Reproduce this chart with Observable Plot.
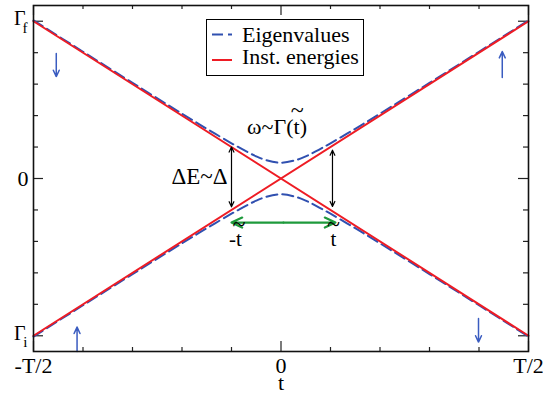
<!DOCTYPE html>
<html>
<head>
<meta charset="utf-8">
<script src="https://cdn.jsdelivr.net/npm/d3@7"></script>
<script src="https://cdn.jsdelivr.net/npm/@observablehq/plot@0.6"></script>
<style>
  body { margin: 0; background: white; }
  #chart { position: relative; width: 543px; height: 394px; }
  svg { font-family: "Liberation Serif", serif; }
</style>
</head>
<body>
<div id="chart"></div>
<script>
// ---- data ----
const xTickValues = [-0.5, 0, 0.5];
const xTickLabels = ["-T/2", "0", "T/2"];
const xMinorTicks = [-0.4, -0.3, -0.2, -0.1, 0.1, 0.2, 0.3, 0.4];
const yTickValues = [-1, 0, 1];
const yTickMain = ["Γ", "0", "Γ"];
const yTickSub = ["i", "", "f"];
const yMinorTicks = [-0.8, -0.6, -0.4, -0.2, 0.2, 0.4, 0.6, 0.8];

const instT = [-0.5, 0.5];
const instRising = [-1, 1];
const instFalling = [1, -1];

const eigT = [-0.5, -0.4, -0.3, -0.2, -0.15, -0.1, -0.07, -0.05, -0.03, 0, 0.03, 0.05, 0.07, 0.1, 0.15, 0.2, 0.3, 0.4, 0.5];
const eigUpper = [1.005, 0.806, 0.608, 0.412, 0.316, 0.224, 0.172, 0.141, 0.117, 0.1, 0.117, 0.141, 0.172, 0.224, 0.316, 0.412, 0.608, 0.806, 1.005];
const eigLower = [-1.005, -0.806, -0.608, -0.412, -0.316, -0.224, -0.172, -0.141, -0.117, -0.1, -0.117, -0.141, -0.172, -0.224, -0.316, -0.412, -0.608, -0.806, -1.005];

const sweepX = [-0.454, 0.447, -0.412, 0.399];
const sweepFrom = [0.795, 0.642, -1.1, -0.89];
const sweepTo = [0.648, 0.807, -0.945, -1.04];

const gapX = [-0.1, 0.104];
const gapTop = [0.2, 0.18];
const gapBottom = [-0.18, -0.178];

const widthArrowY = -0.28;
const widthArrowFrom = -0.1;
const widthArrowTo = 0.11;

// annotation texts
const noteTexts = ["ω~Γ(t)", "ΔE~Δ", "-t", "t"];
const noteX = [-0.008, -0.108, -0.092, 0.106];
const noteY = [0.325, 0.012, -0.385, -0.385];
const noteSize = [22, 23, 21, 21];
const noteAnchor = ["middle", "end", "middle", "middle"];
const tildeX = [0.033, -0.085, 0.106];
const tildeY = [0.435, -0.292, -0.292];

const seriesNames = ["Eigenvalues", "Inst. energies"];
const seriesColors = ["#3050b0", "#ee1c24"];
const seriesDash = ["11,5", null];

// ---- build tables ----
const eigData = [
  ...eigT.map((t, i) => ({t, e: eigUpper[i], branch: "upper"})),
  ...eigT.map((t, i) => ({t, e: eigLower[i], branch: "lower"}))
];
const instData = [
  ...instT.map((t, i) => ({t, e: instRising[i], branch: "rising"})),
  ...instT.map((t, i) => ({t, e: instFalling[i], branch: "falling"}))
];
const sweepArrows = sweepX.map((x, i) => ({x1: x, y1: sweepFrom[i], x2: x, y2: sweepTo[i]}));
const gapArrows = gapX.flatMap((x, i) => {
  const mid = (gapTop[i] + gapBottom[i]) / 2;
  return [{x1: x, y1: mid, x2: x, y2: gapTop[i]}, {x1: x, y1: mid, x2: x, y2: gapBottom[i]}];
});
const widthMid = (widthArrowFrom + widthArrowTo) / 2;
const widthArrows = [
  {x1: widthMid, y1: widthArrowY, x2: widthArrowFrom, y2: widthArrowY},
  {x1: widthMid, y1: widthArrowY, x2: widthArrowTo, y2: widthArrowY}
];
const notes = noteTexts.map((text, i) => ({text, x: noteX[i], y: noteY[i], size: noteSize[i], anchor: noteAnchor[i]}));
const tildes = tildeX.map((x, i) => ({x, y: tildeY[i]}));
const yTicks = yTickValues.map((v, i) => ({v, main: yTickMain[i], sub: yTickSub[i]}));
const xTicks = xTickValues.map((v, i) => ({v, label: xTickLabels[i]}));

const W = 543, H = 394;
const mT = 5, mR = 15, mB = 43, mL = 33;
const pw = W - mL - mR, ph = H - mT - mB;
const serif = "Liberation Serif";

const noteMarks = notes.map(d => Plot.text([d], {x: "x", y: "y", text: "text", fontSize: d.size, textAnchor: d.anchor, fill: "black"}));

const svg = Plot.plot({
  width: W, height: H,
  marginTop: mT, marginRight: mR, marginBottom: mB, marginLeft: mL,
  x: {domain: [-0.5, 0.5], axis: null},
  y: {domain: [-1.1, 1.1], axis: null},
  style: {fontFamily: serif, background: "white", overflow: "visible"},
  marks: [
    // ticks (inward)
    Plot.ruleX(xMinorTicks, {x: d => d, insetTop: ph - 4, stroke: "#222", strokeWidth: 1.2}),
    Plot.ruleX(xTickValues, {x: d => d, insetTop: ph - 10, stroke: "#222", strokeWidth: 1.2}),
    Plot.ruleX(xMinorTicks, {x: d => d, insetBottom: ph - 4, stroke: "#222", strokeWidth: 1.2}),
    Plot.ruleX(xTickValues, {x: d => d, insetBottom: ph - 10, stroke: "#222", strokeWidth: 1.2}),
    Plot.ruleY(yMinorTicks, {y: d => d, insetRight: pw - 5, stroke: "#222", strokeWidth: 1.2}),
    Plot.ruleY(yTickValues, {y: d => d, insetRight: pw - 10, stroke: "#222", strokeWidth: 1.2}),
    Plot.ruleY(yMinorTicks, {y: d => d, insetLeft: pw - 5, stroke: "#222", strokeWidth: 1.2}),
    Plot.ruleY(yTickValues, {y: d => d, insetLeft: pw - 10, stroke: "#222", strokeWidth: 1.2}),
    // eigenvalues
    Plot.line(eigData, {x: "t", y: "e", z: "branch", stroke: seriesColors[0], strokeWidth: 2, strokeDasharray: seriesDash[0], curve: "catmull-rom"}),
    // instantaneous energies
    Plot.line(instData, {x: "t", y: "e", z: "branch", stroke: seriesColors[1], strokeWidth: 2}),
    // arrows
    Plot.arrow(sweepArrows, {x1: "x1", y1: "y1", x2: "x2", y2: "y2", stroke: "#3a5cc0", strokeWidth: 1.5, headLength: 7, headAngle: 50}),
    Plot.arrow(gapArrows, {x1: "x1", y1: "y1", x2: "x2", y2: "y2", stroke: "black", strokeWidth: 1.2, headLength: 7, headAngle: 50}),
    Plot.arrow(widthArrows, {x1: "x1", y1: "y1", x2: "x2", y2: "y2", stroke: "#1e9a3c", strokeWidth: 2.2, headLength: 8, headAngle: 50}),
    // annotations
    ...noteMarks,
    Plot.text(tildes, {x: "x", y: "y", text: () => "~", fontSize: 24, fill: "black"}),
    // frame
    Plot.frame({stroke: "#111", strokeWidth: 1.6}),
    // x tick labels and axis label
    Plot.text(xTicks, {x: "v", text: "label", frameAnchor: "bottom", lineAnchor: "top", dy: 6, fontSize: 22, fill: "black"}),
    Plot.text(["t"], {x: 0, text: d => d, frameAnchor: "bottom", lineAnchor: "top", dy: 23, fontSize: 22, fill: "black"}),
    // y tick labels
    Plot.text(yTicks.filter(d => d.sub === ""), {y: "v", text: "main", frameAnchor: "left", textAnchor: "end", dx: -5, fontSize: 22, fill: "black"}),
    Plot.text(yTicks.filter(d => d.sub !== ""), {y: "v", text: "main", frameAnchor: "left", textAnchor: "end", dx: -8, dy: -2.5, fontSize: 20, fill: "black"}),
    Plot.text(yTicks.filter(d => d.sub !== ""), {y: "v", text: "sub", frameAnchor: "left", textAnchor: "end", dx: -6, dy: 6.5, fontSize: 15, fill: "black"})
  ]
});

// legend (drawn into the same svg)
const g = d3.select(svg).append("g").attr("font-family", serif).attr("text-anchor", "start");
g.append("rect").attr("x", 206.5).attr("y", 19.5).attr("width", 157).attr("height", 56)
  .attr("fill", "white").attr("stroke", "black").attr("stroke-width", 1);
seriesNames.forEach((name, i) => {
  const yy = i === 0 ? 34.5 : 60;
  g.append("line").attr("x1", 212).attr("x2", 232).attr("y1", yy).attr("y2", yy)
    .attr("stroke", seriesColors[i]).attr("stroke-width", 2)
    .attr("stroke-dasharray", seriesDash[i]);
  g.append("text").attr("x", 242).attr("y", i === 0 ? 42 : 64)
    .attr("text-anchor", "start")
    .attr("font-size", 22).attr("fill", "black").text(name);
});

document.getElementById("chart").appendChild(svg);
</script>
</body>
</html>
